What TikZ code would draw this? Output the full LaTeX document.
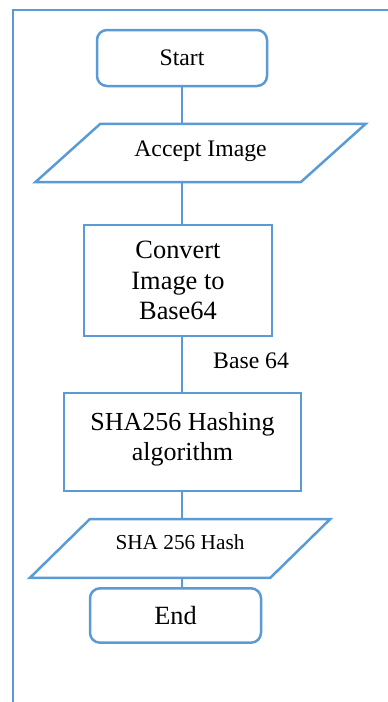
\documentclass[tikz,border=0pt]{standalone}
\usepackage{fontspec}
\setmainfont{Liberation Serif}
\usetikzlibrary{calc}
\definecolor{flowblue}{HTML}{5B9BD5}
\begin{document}
\begin{tikzpicture}[x=1pt,y=-1pt,
  ln/.style={draw=flowblue,line width=2.5pt},
  term/.style={ln,rounded corners=10pt,inner sep=0pt},
  procbox/.style={ln,inner sep=0pt,align=center},
  iobox/.style={inner sep=0pt},
  conn/.style={draw=flowblue,line width=2.5pt}]
\useasboundingbox (0,0) rectangle (388,702);
% outer frame
\draw[ln] (13,702) -- (13,10) -- (388,10);
% nodes
\node[term,minimum width=170pt,minimum height=56pt,font=\fontsize{23.7}{28}\selectfont] (start) at (182,58) {Start};
\node[iobox,minimum width=265pt,minimum height=58pt,font=\fontsize{23.7}{28}\selectfont] (acc) at (200.5,153) {\raisebox{2pt}[\height][\depth]{Accept Image}};
\draw[ln] ([xshift=32.5pt]acc.north west) -- ([xshift=32.5pt]acc.north east) -- ([xshift=-32.5pt]acc.south east) -- ([xshift=-32.5pt]acc.south west) -- cycle;
\node[procbox,minimum width=188pt,minimum height=111pt,text depth=-3pt,font=\fontsize{26.4}{30.5}\selectfont] (conv) at (178,280.5) {Convert\\Image to\\Base64};
\node[procbox,minimum width=237pt,minimum height=97.7pt,text depth=11.5pt,font=\fontsize{26}{30}\selectfont] (sha) at (182.5,442) {SHA256 Hashing\\algorithm};
\node[iobox,minimum width=240pt,minimum height=58.4pt,font=\fontsize{21.3}{26}\selectfont] (hash) at (180,548.5) {\raisebox{6pt}[\height][\depth]{SHA 256 Hash}};
\draw[ln] ([xshift=30pt]hash.north west) -- ([xshift=30pt]hash.north east) -- ([xshift=-30pt]hash.south east) -- ([xshift=-30pt]hash.south west) -- cycle;
\node[term,minimum width=171pt,minimum height=54.4pt,font=\fontsize{26.3}{30}\selectfont] (end) at (175.5,615.5) {End};
\node[anchor=base west,inner sep=0pt,font=\fontsize{23.7}{28}\selectfont] (lbl) at (213,368) {Base 64};
% connectors
\draw[conn] (start.south) -- (start.south |- acc.north);
\draw[conn] (acc.south -| start.south) -- (conv.north -| start.south);
\draw[conn] (conv.south -| start.south) -- (sha.north -| start.south);
\draw[conn] (sha.south -| start.south) -- (hash.north -| start.south);
\draw[conn] (hash.south -| start.south) -- (end.north -| start.south);
\end{tikzpicture}
\end{document}
